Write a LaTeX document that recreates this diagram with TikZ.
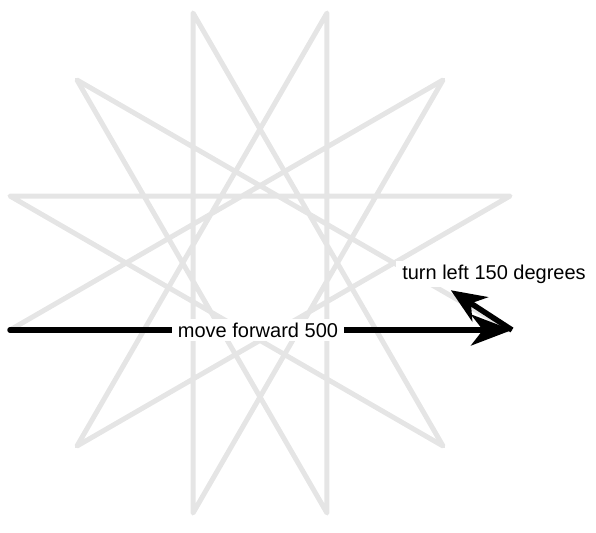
\documentclass[tikz,border=0pt]{standalone}
\usepackage{fontspec}
\setmainfont{Liberation Sans}
\usetikzlibrary{arrows.meta,calc}
\begin{document}
\begin{tikzpicture}[x=1pt,y=1pt,
  starline/.style={draw=black!10, line width=5pt, line join=round, line cap=round},
  movearrow/.style={draw=black, line width=5.5pt, line cap=round, -{Stealth[length=41pt,width=31pt,inset=12pt]}},
  turnarrow/.style={draw=black, line width=5.5pt, -{Stealth[length=35pt,width=29pt,inset=11pt]}},
  lbl/.style={fill=white, inner xsep=6pt, inner ysep=4pt, font=\fontsize{20}{24}\selectfont}]
\useasboundingbox (0,0) rectangle (596,532);
\coordinate (start) at (10,202);
% star {12/5} drawn by the turtle
\draw[starline] (start) -- ++(0:500) -- ++(150:500) -- ++(300:500) -- ++(90:500)
  -- ++(240:500) -- ++(30:500) -- ++(180:500) -- ++(330:500) -- ++(120:500)
  -- ++(270:500) -- ++(60:500) -- ++(210:500) -- cycle;
\coordinate (corner) at (512,202);
\coordinate (turnend) at ($(corner)+(147:73)$);
\draw[movearrow] (start) -- (corner);
\draw[turnarrow] (corner) -- (turnend);
\node[lbl] (move) at (258,202) {move forward 500};
\node[lbl] (turn) at (494,258) {turn left 150 degrees};
\end{tikzpicture}
\end{document}
